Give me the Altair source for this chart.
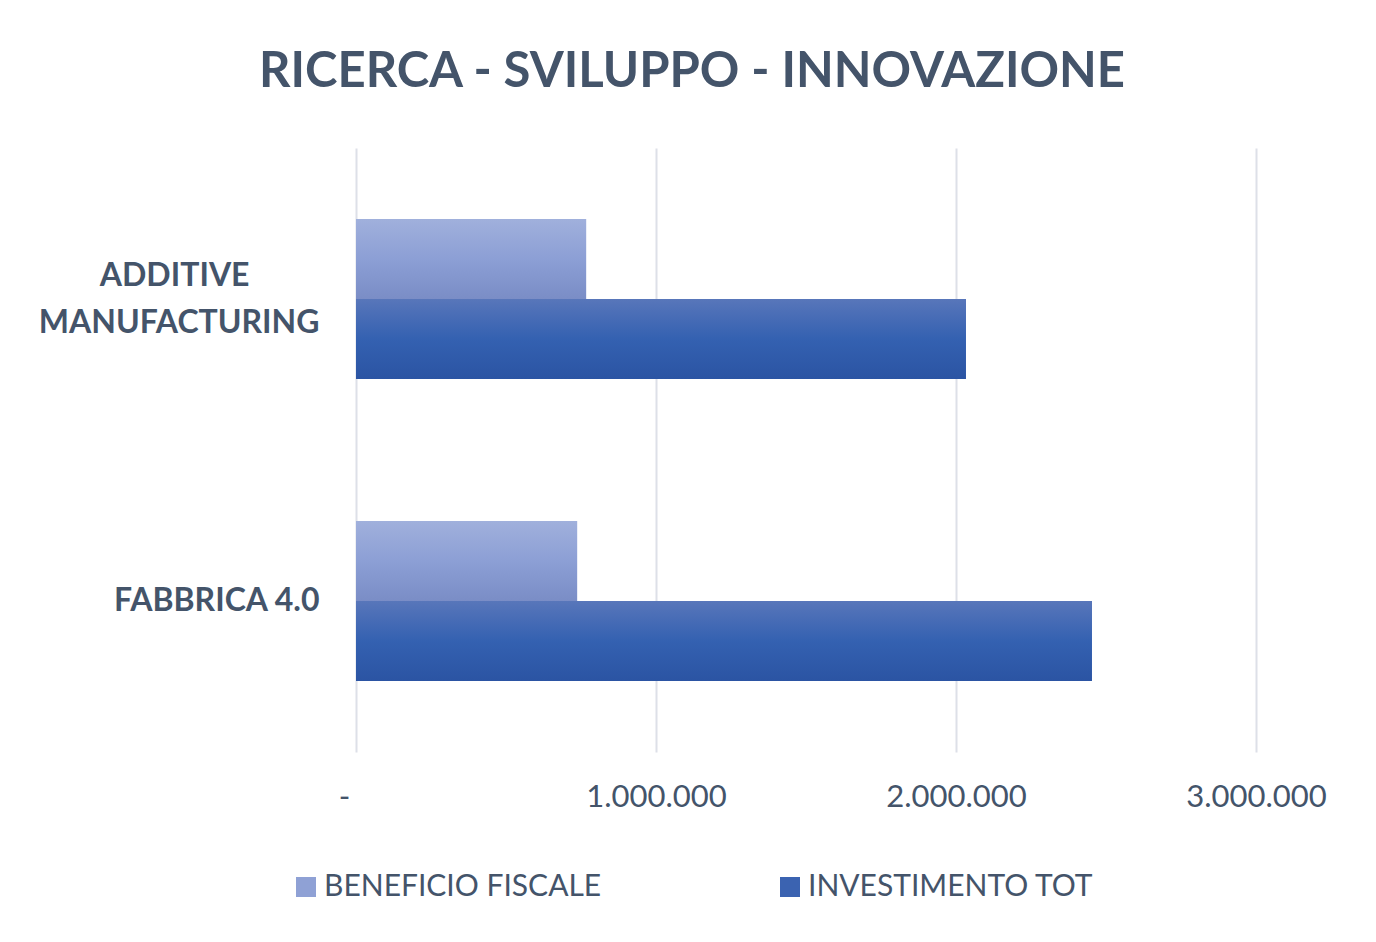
import altair as alt
import pandas as pd

# ---- data ----
categories = ["ADDITIVE MANUFACTURING", "FABBRICA 4.0"]
series = ["BENEFICIO FISCALE", "INVESTIMENTO TOT"]
beneficio_fiscale = [767000, 737000]
investimento_tot = [2033000, 2453000]
x_tick_values = [0, 1000000, 2000000, 3000000]
x_tick_labels = ["-", "1.000.000", "2.000.000", "3.000.000"]
title_text = "RICERCA - SVILUPPO - INNOVAZIONE"

rows = []
for c, b, i in zip(categories, beneficio_fiscale, investimento_tot):
    rows.append({"categoria": c, "serie": series[0], "valore": b})
    rows.append({"categoria": c, "serie": series[1], "valore": i})
df = pd.DataFrame(rows)

TEXT = "#44546A"
FONT = "Lato"
NB = "\u00a0"
ZW = "\u200b"

# tick label expression built from the label list
lab_expr = "''"
for v, l in reversed(list(zip(x_tick_values, x_tick_labels))):
    txt = l + NB * 3 + ZW if l == "-" else l
    lab_expr = f"datum.value == {v} ? '{txt}' : ({lab_expr})"

# category labels (first one split on two centred lines)
cat_expr = (f"datum.label == '{categories[0]}' ? "
            f"['ADDITIVE{NB * 9}{ZW}', 'MANUFACTURING'] : datum.label")

grad_b = alt.LinearGradient(
    gradient="linear", x1=0, y1=0, x2=0, y2=1,
    stops=[alt.GradientStop(offset=0, color="#A0B0DC"),
           alt.GradientStop(offset=0.5, color="#8C9FD5"),
           alt.GradientStop(offset=1, color="#7A8DC6")])
grad_i = alt.LinearGradient(
    gradient="linear", x1=0, y1=0, x2=0, y2=1,
    stops=[alt.GradientStop(offset=0, color="#5876BA"),
           alt.GradientStop(offset=0.5, color="#3461B1"),
           alt.GradientStop(offset=1, color="#2B54A3")])

x_enc = alt.X(
    "valore:Q", title=None,
    scale=alt.Scale(domain=[0, 3000000], nice=False, zero=True),
    axis=alt.Axis(values=x_tick_values, labelExpr=lab_expr, ticks=False,
                  domain=False, grid=True, gridColor="#DDE0E8", gridWidth=2,
                  labelFont=FONT, labelFontSize=31, labelColor=TEXT,
                  labelPadding=30, labelFlush=False))
y_enc = alt.Y(
    "categoria:N", title=None, sort=categories,
    scale=alt.Scale(paddingInner=0.47, paddingOuter=0.235),
    axis=alt.Axis(labelExpr=cat_expr, ticks=False, domain=False, grid=False,
                  labelFont=FONT, labelFontSize=32, labelFontWeight="bold",
                  labelColor=TEXT, labelPadding=37, labelLineHeight=47,
                  labelAlign="right", labelLimit=400,
                  labelOffset=alt.condition(
                      f"datum.label == '{categories[0]}'",
                      alt.value(-23), alt.value(0))))
yoff_enc = alt.YOffset("serie:N", sort=series,
                       scale=alt.Scale(paddingInner=0, paddingOuter=0))

base = alt.Chart(df)

solid = base.mark_bar().encode(
    x=x_enc, y=y_enc, yOffset=yoff_enc,
    color=alt.Color(
        "serie:N", sort=series,
        scale=alt.Scale(domain=series, range=["#8FA1D5", "#3B63B1"]),
        legend=alt.Legend(
            title=None, orient="none", legendX=-65, legendY=724,
            direction="horizontal", symbolType="square", symbolSize=400,
            symbolStrokeWidth=0, labelFont=FONT, labelFontSize=30,
            labelColor=TEXT, labelOffset=3, columnPadding=173, padding=0,
            labelLimit=500)))

grad = base.mark_bar().encode(
    x=x_enc, y=y_enc, yOffset=yoff_enc,
    color=alt.condition(alt.datum.serie == series[0],
                        alt.value(grad_b), alt.value(grad_i)))

chart = alt.layer(solid, grad).properties(
    width=900, height=604,
    autosize=alt.AutoSizeParams(type="none"),
    padding={"left": 348, "top": 140, "right": 110, "bottom": 180},
    title=alt.TitleParams(title_text, font=FONT, fontSize=49,
                          fontWeight="bold", color=TEXT, anchor="middle",
                          frame="group", dx=-114, dy=48, baseline="alphabetic",
                          offset=60),
).configure(background="white").configure_view(strokeWidth=0)

chart.save("out.html", embed_options={"renderer": "svg", "actions": False})
